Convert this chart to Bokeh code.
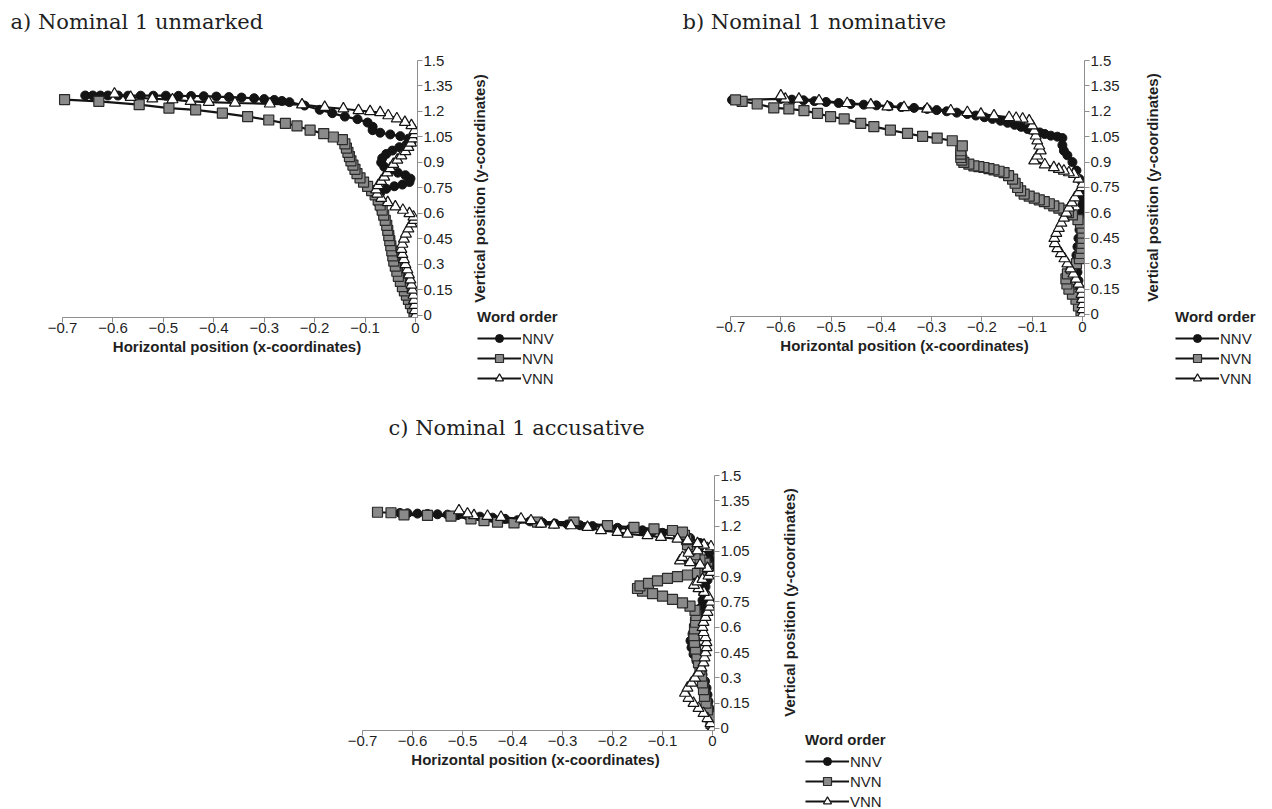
from bokeh.plotting import figure
from bokeh.models import Range1d, FixedTicker, Legend, LegendItem, Spacer, Title
from bokeh.layouts import column, row
from bokeh.embed import file_html
from bokeh.resources import INLINE

# ---------------- data ----------------
panel_titles = ["a) Nominal 1 unmarked", "b) Nominal 1 nominative", "c) Nominal 1 accusative"]
series_names = ["NNV", "NVN", "VNN"]
legend_title = "Word order"
x_axis_title = "Horizontal position (x-coordinates)"
y_axis_title = "Vertical position (y-coordinates)"

x_tick_values = [-0.7, -0.6, -0.5, -0.4, -0.3, -0.2, -0.1, 0]
x_tick_labels = ["\u22120.7", "\u22120.6", "\u22120.5", "\u22120.4", "\u22120.3", "\u22120.2", "\u22120.1", "0"]
y_tick_values = [0, 0.15, 0.3, 0.45, 0.6, 0.75, 0.9, 1.05, 1.2, 1.35, 1.5]
y_tick_labels = ["0", "0.15", "0.3", "0.45", "0.6", "0.75", "0.9", "1.05", "1.2", "1.35", "1.5"]

# Panel a) Nominal 1 unmarked
a_nnv_x = [0, -0.003, -0.006, -0.01, -0.014, -0.018, -0.022, -0.026, -0.03, -0.034, -0.037, -0.04, -0.043, -0.046, -0.048, -0.05, -0.052, -0.055, -0.058, -0.062, -0.066, -0.07, -0.074, -0.075, -0.07, -0.058, -0.042, -0.026, -0.012, -0.01, -0.02, -0.035, -0.05, -0.062, -0.068, -0.066, -0.058, -0.046, -0.032, -0.018, -0.008, -0.014, -0.03, -0.05, -0.07, -0.085, -0.085, -0.095, -0.115, -0.14, -0.165, -0.19, -0.22, -0.25, -0.265, -0.28, -0.3, -0.32, -0.345, -0.37, -0.395, -0.42, -0.445, -0.47, -0.495, -0.52, -0.545, -0.57, -0.59, -0.61, -0.625, -0.64, -0.655]
a_nnv_y = [0, 0.03, 0.06, 0.09, 0.12, 0.15, 0.18, 0.21, 0.24, 0.27, 0.3, 0.33, 0.36, 0.39, 0.42, 0.45, 0.48, 0.51, 0.54, 0.57, 0.6, 0.63, 0.66, 0.69, 0.72, 0.745, 0.76, 0.77, 0.785, 0.805, 0.825, 0.84, 0.855, 0.875, 0.9, 0.925, 0.95, 0.97, 0.99, 1.005, 1.02, 1.04, 1.055, 1.065, 1.075, 1.09, 1.11, 1.135, 1.155, 1.17, 1.19, 1.21, 1.235, 1.255, 1.262, 1.268, 1.273, 1.278, 1.282, 1.285, 1.288, 1.29, 1.291, 1.292, 1.293, 1.293, 1.293, 1.293, 1.294, 1.294, 1.294, 1.294, 1.294]
a_nvn_x = [0, -0.003, -0.006, -0.01, -0.014, -0.018, -0.022, -0.026, -0.03, -0.034, -0.037, -0.04, -0.043, -0.045, -0.047, -0.049, -0.051, -0.053, -0.055, -0.057, -0.06, -0.063, -0.066, -0.07, -0.074, -0.08, -0.087, -0.095, -0.103, -0.11, -0.116, -0.12, -0.124, -0.128, -0.131, -0.134, -0.137, -0.14, -0.145, -0.163, -0.182, -0.209, -0.235, -0.258, -0.291, -0.333, -0.383, -0.436, -0.489, -0.548, -0.628, -0.696]
a_nvn_y = [0, 0.02, 0.045, 0.07, 0.095, 0.12, 0.145, 0.17, 0.2, 0.23, 0.26, 0.29, 0.32, 0.35, 0.38, 0.41, 0.44, 0.47, 0.5, 0.53, 0.56, 0.59, 0.62, 0.65, 0.68, 0.71, 0.735, 0.76, 0.785, 0.81, 0.835, 0.86, 0.885, 0.91, 0.935, 0.96, 0.985, 1.01, 1.035, 1.05, 1.07, 1.09, 1.115, 1.13, 1.15, 1.17, 1.19, 1.21, 1.22, 1.24, 1.26, 1.27]
a_vnn_x = [0, -0.001, -0.002, -0.003, -0.004, -0.006, -0.008, -0.01, -0.013, -0.016, -0.02, -0.023, -0.026, -0.028, -0.026, -0.023, -0.019, -0.014, -0.008, -0.003, -0.004, -0.012, -0.025, -0.04, -0.055, -0.068, -0.076, -0.078, -0.074, -0.068, -0.062, -0.056, -0.05, -0.044, -0.036, -0.028, -0.02, -0.014, -0.009, -0.005, -0.002, -0.002, -0.008, -0.021, -0.037, -0.054, -0.07, -0.09, -0.113, -0.143, -0.18, -0.225, -0.289, -0.358, -0.41, -0.446, -0.482, -0.522, -0.565, -0.597]
a_vnn_y = [0, 0.03, 0.06, 0.09, 0.12, 0.15, 0.18, 0.21, 0.24, 0.27, 0.3, 0.33, 0.36, 0.39, 0.42, 0.45, 0.48, 0.51, 0.54, 0.56, 0.58, 0.6, 0.62, 0.64, 0.665, 0.69, 0.715, 0.74, 0.765, 0.79, 0.815, 0.84, 0.865, 0.89, 0.915, 0.94, 0.965, 0.99, 1.015, 1.04, 1.065, 1.088, 1.118, 1.137, 1.158, 1.176, 1.194, 1.2, 1.206, 1.216, 1.225, 1.24, 1.245, 1.25, 1.255, 1.26, 1.27, 1.275, 1.284, 1.304]

# Panel b) Nominal 1 nominative
b_nnv_x = [0, -0.002, -0.004, -0.006, -0.008, -0.01, -0.012, -0.012, -0.01, -0.008, -0.006, -0.004, -0.002, 0, 0, 0, -0.006, -0.012, -0.02, -0.03, -0.037, -0.04, -0.04, -0.05, -0.063, -0.075, -0.085, -0.097, -0.109, -0.122, -0.135, -0.149, -0.163, -0.179, -0.195, -0.212, -0.229, -0.25, -0.27, -0.29, -0.309, -0.335, -0.36, -0.385, -0.41, -0.435, -0.461, -0.485, -0.51, -0.533, -0.555, -0.578, -0.6, -0.697]
b_nnv_y = [0, 0.05, 0.1, 0.15, 0.2, 0.25, 0.3, 0.35, 0.4, 0.45, 0.5, 0.55, 0.6, 0.65, 0.7, 0.75, 0.8, 0.85, 0.9, 0.94, 0.967, 1.0, 1.042, 1.05, 1.056, 1.066, 1.075, 1.085, 1.095, 1.108, 1.12, 1.132, 1.144, 1.155, 1.165, 1.175, 1.184, 1.192, 1.2, 1.207, 1.214, 1.22, 1.225, 1.23, 1.235, 1.239, 1.243, 1.249, 1.255, 1.26, 1.265, 1.269, 1.273, 1.267]
b_nvn_x = [0, -0.003, -0.008, -0.013, -0.02, -0.027, -0.031, -0.033, -0.03, -0.022, -0.012, -0.006, -0.004, -0.002, -0.001, 0, 0, -0.001, -0.004, -0.009, -0.02, -0.028, -0.037, -0.047, -0.057, -0.066, -0.076, -0.086, -0.096, -0.106, -0.116, -0.123, -0.129, -0.134, -0.139, -0.147, -0.156, -0.166, -0.176, -0.186, -0.196, -0.206, -0.216, -0.226, -0.236, -0.24, -0.242, -0.242, -0.242, -0.239, -0.259, -0.289, -0.318, -0.348, -0.382, -0.415, -0.441, -0.474, -0.501, -0.527, -0.554, -0.584, -0.614, -0.647, -0.677, -0.69]
b_nvn_y = [0, 0.02, 0.05, 0.09, 0.12, 0.15, 0.18, 0.21, 0.24, 0.27, 0.3, 0.33, 0.36, 0.39, 0.42, 0.45, 0.48, 0.51, 0.54, 0.56, 0.588, 0.602, 0.616, 0.628, 0.641, 0.654, 0.667, 0.677, 0.687, 0.699, 0.711, 0.73, 0.75, 0.775, 0.799, 0.82, 0.838, 0.846, 0.854, 0.861, 0.868, 0.873, 0.878, 0.888, 0.898, 0.912, 0.927, 0.947, 0.967, 0.996, 1.026, 1.042, 1.052, 1.069, 1.089, 1.109, 1.129, 1.155, 1.168, 1.188, 1.204, 1.214, 1.22, 1.243, 1.259, 1.267]
b_vnn_x = [0, 0, 0, -0.001, -0.002, -0.003, -0.008, -0.013, -0.018, -0.024, -0.03, -0.036, -0.043, -0.05, -0.055, -0.056, -0.052, -0.047, -0.042, -0.037, -0.032, -0.027, -0.021, -0.015, -0.008, -0.002, 0, -0.008, -0.017, -0.027, -0.037, -0.047, -0.057, -0.075, -0.096, -0.09, -0.083, -0.086, -0.09, -0.093, -0.096, -0.1, -0.106, -0.119, -0.132, -0.146, -0.176, -0.202, -0.229, -0.262, -0.309, -0.355, -0.388, -0.421, -0.468, -0.524, -0.564, -0.591, -0.6]
b_vnn_y = [0, 0.03, 0.06, 0.09, 0.12, 0.15, 0.18, 0.21, 0.24, 0.27, 0.3, 0.33, 0.36, 0.39, 0.42, 0.45, 0.48, 0.51, 0.54, 0.57, 0.6, 0.63, 0.66, 0.69, 0.72, 0.75, 0.77, 0.8, 0.829, 0.838, 0.848, 0.858, 0.868, 0.885, 0.908, 0.937, 0.967, 0.996, 1.026, 1.055, 1.085, 1.115, 1.144, 1.155, 1.16, 1.164, 1.174, 1.184, 1.194, 1.204, 1.214, 1.223, 1.227, 1.239, 1.247, 1.263, 1.273, 1.273, 1.292]

# Panel c) Nominal 1 accusative
c_nnv_x = [0, -0.002, -0.004, -0.006, -0.008, -0.01, -0.012, -0.015, -0.02, -0.026, -0.032, -0.038, -0.042, -0.044, -0.04, -0.034, -0.028, -0.024, -0.022, -0.02, -0.018, -0.014, -0.01, -0.006, -0.004, -0.004, -0.006, -0.012, -0.025, -0.045, -0.07, -0.1, -0.12, -0.14, -0.165, -0.19, -0.215, -0.24, -0.265, -0.29, -0.315, -0.34, -0.365, -0.39, -0.415, -0.44, -0.465, -0.49, -0.51, -0.53, -0.55, -0.57, -0.59, -0.61, -0.625, -0.64]
c_nnv_y = [0, 0.04, 0.08, 0.12, 0.16, 0.2, 0.24, 0.28, 0.32, 0.36, 0.4, 0.44, 0.48, 0.52, 0.56, 0.6, 0.64, 0.68, 0.72, 0.76, 0.8, 0.84, 0.88, 0.92, 0.96, 1.0, 1.04, 1.07, 1.1, 1.13, 1.15, 1.16, 1.168, 1.175, 1.183, 1.19, 1.195, 1.2, 1.205, 1.21, 1.215, 1.22, 1.228, 1.235, 1.243, 1.25, 1.256, 1.262, 1.265, 1.268, 1.27, 1.272, 1.274, 1.276, 1.278, 1.28]
c_nvn_x = [0, -0.003, -0.006, -0.01, -0.013, -0.016, -0.018, -0.02, -0.022, -0.025, -0.028, -0.031, -0.034, -0.036, -0.037, -0.036, -0.034, -0.033, -0.035, -0.045, -0.06, -0.08, -0.1, -0.12, -0.14, -0.15, -0.145, -0.128, -0.11, -0.09, -0.07, -0.05, -0.03, -0.015, -0.01, -0.015, -0.025, -0.035, -0.045, -0.05, -0.052, -0.056, -0.06, -0.08, -0.117, -0.157, -0.21, -0.277, -0.35, -0.397, -0.43, -0.457, -0.483, -0.523, -0.57, -0.617, -0.643, -0.67]
c_nvn_y = [0, 0.03, 0.07, 0.11, 0.15, 0.19, 0.23, 0.27, 0.31, 0.35, 0.39, 0.43, 0.47, 0.51, 0.55, 0.59, 0.63, 0.67, 0.7, 0.725, 0.745, 0.765, 0.785, 0.8, 0.815, 0.83, 0.845, 0.86, 0.875, 0.89, 0.9, 0.91, 0.92, 0.935, 0.955, 0.98, 1.0, 1.03, 1.06, 1.09, 1.12, 1.145, 1.164, 1.174, 1.184, 1.193, 1.203, 1.223, 1.223, 1.219, 1.223, 1.233, 1.243, 1.259, 1.263, 1.267, 1.279, 1.282]
c_vnn_x = [0, -0.004, -0.01, -0.018, -0.028, -0.038, -0.048, -0.055, -0.05, -0.042, -0.035, -0.028, -0.022, -0.018, -0.016, -0.014, -0.012, -0.012, -0.014, -0.018, -0.02, -0.018, -0.014, -0.01, -0.006, -0.004, -0.008, -0.017, -0.028, -0.037, -0.03, -0.02, -0.008, -0.003, -0.01, -0.025, -0.045, -0.065, -0.06, -0.048, -0.03, -0.01, -0.003, -0.017, -0.03, -0.05, -0.07, -0.103, -0.13, -0.17, -0.19, -0.223, -0.25, -0.283, -0.317, -0.343, -0.363, -0.383, -0.423, -0.45, -0.477, -0.49, -0.507]
c_vnn_y = [0, 0.03, 0.06, 0.09, 0.12, 0.15, 0.18, 0.21, 0.24, 0.27, 0.3, 0.33, 0.36, 0.39, 0.42, 0.45, 0.48, 0.51, 0.54, 0.57, 0.6, 0.63, 0.66, 0.69, 0.72, 0.75, 0.78, 0.808, 0.83, 0.85, 0.87, 0.885, 0.905, 0.927, 0.95, 0.97, 0.985, 0.995, 1.015, 1.04, 1.055, 1.068, 1.078, 1.088, 1.097, 1.114, 1.124, 1.134, 1.144, 1.154, 1.164, 1.174, 1.193, 1.203, 1.207, 1.213, 1.233, 1.243, 1.253, 1.259, 1.263, 1.273, 1.292]

panel_series = [
    [(a_nnv_x, a_nnv_y), (a_nvn_x, a_nvn_y), (a_vnn_x, a_vnn_y)],
    [(b_nnv_x, b_nnv_y), (b_nvn_x, b_nvn_y), (b_vnn_x, b_vnn_y)],
    [(c_nnv_x, c_nnv_y), (c_nvn_x, c_nvn_y), (c_vnn_x, c_vnn_y)],
]
for ser in panel_series:
    for xs, ys in ser:
        assert len(xs) == len(ys), (len(xs), len(ys))

# ---------------- styling ----------------
X_MIN, X_MAX = -0.712, 0.004
Y_MIN, Y_MAX = -0.012, 1.5
AXIS_COLOR = "#8f8f8f"
TEXT_COLOR = "#1f1f1f"
SANS = "Liberation Sans"
AX_R = 45          # room kept for the right tick labels
LAB_SHIFT = 5      # rotated axis title centre sits this far left of (frame left - standoff)

marker_styles = {
    "NNV": dict(marker="circle", size=9, fill_color="#141414", line_color="#141414", line_width=1),
    "NVN": dict(marker="square", size=10, fill_color="#8a8a8a", line_color="#2a2a2a", line_width=1.2),
    "VNN": dict(marker="triangle", size=11, fill_color="#ffffff", line_color="#141414", line_width=1.2),
}
LINE_COLOR = "#141414"
LINE_WIDTH = 2.2

# screen-pixel geometry of each panel (page origin at 0, 0)
geoms = [
    dict(fig_left=0, fig_top=0, fig_w=680, fig_h=412, x0px=62, x1px=415, y0px=315, y1px=60,
         title_left=10, title_gap=24, ylab_cx=482, ylab_cy=188, leg_left=477, leg_top=306),
    dict(fig_left=680, fig_top=0, fig_w=590, fig_h=412, x0px=730, x1px=1082, y0px=314, y1px=60,
         title_left=682, title_gap=24, ylab_cx=1155, ylab_cy=187, leg_left=1175, leg_top=306),
    dict(fig_left=300, fig_top=412, fig_w=620, fig_h=396, x0px=362, x1px=712, y0px=728, y1px=475,
         title_left=388, title_gap=33, ylab_cx=792, ylab_cy=602, leg_left=805, leg_top=729),
]


def style_axis(ax):
    ax.axis_line_color = AXIS_COLOR
    ax.axis_line_width = 1
    ax.major_tick_line_color = AXIS_COLOR
    ax.minor_tick_line_color = None
    ax.major_tick_in = 0
    ax.major_tick_out = 5
    ax.major_label_text_font = SANS
    ax.major_label_text_font_size = "15px"
    ax.major_label_text_color = TEXT_COLOR
    ax.major_label_standoff = 1
    ax.axis_label_text_font = SANS
    ax.axis_label_text_font_style = "bold"
    ax.axis_label_text_font_size = "15px"
    ax.axis_label_text_color = TEXT_COLOR


def blank_figure(**kw):
    f = figure(output_backend="svg", toolbar_location=None, title=None, **kw)
    f.outline_line_color = None
    for gr in f.grid:
        gr.visible = False
    f.background_fill_color = "white"
    f.border_fill_color = "white"
    return f


def make_panel(title, series, g):
    ppx = (g["x1px"] - g["x0px"]) / 0.7
    ppy = (g["y0px"] - g["y1px"]) / 1.5
    frame_left = g["x0px"] + (X_MIN + 0.7) * ppx
    frame_w = round((X_MAX - X_MIN) * ppx)
    frame_top = g["y1px"] - (Y_MAX - 1.5) * ppy
    frame_h = round((Y_MAX - Y_MIN) * ppy)
    bl = round(frame_left - g["fig_left"])
    bt = round(frame_top - g["fig_top"])
    bb = g["fig_h"] - bt - frame_h
    frame_left_px = g["fig_left"] + bl
    main_w = bl + frame_w + AX_R
    strip_left = g["fig_left"] + main_w
    strip_w = g["fig_w"] - main_w

    # ---- main plot: traces, axes and panel title ----
    p = blank_figure(frame_width=frame_w, frame_height=frame_h,
                     min_border_left=bl, min_border_right=AX_R, min_border_top=bt, min_border_bottom=bb,
                     x_range=Range1d(X_MIN, X_MAX), y_range=Range1d(Y_MIN, Y_MAX),
                     y_axis_location="right")
    gap = Title(text=" ", text_font_size="1px", standoff=g["title_gap"])
    ttl = Title(text=title, align="left", offset=g["title_left"] - frame_left_px, standoff=0,
                text_font="DejaVu Serif", text_font_size="21px", text_font_style="normal",
                text_color=TEXT_COLOR)
    p.add_layout(gap, "above")
    p.add_layout(ttl, "above")

    xa = p.xaxis[0]
    ya = p.yaxis[0]
    style_axis(xa)
    style_axis(ya)
    xa.ticker = FixedTicker(ticks=x_tick_values)
    xa.major_label_overrides = dict(zip(x_tick_values, x_tick_labels))
    xa.major_label_standoff = 0
    xa.bounds = (-0.7, X_MAX)
    xa.axis_label = x_axis_title
    xa.axis_label_standoff = 2
    ya.ticker = FixedTicker(ticks=y_tick_values)
    ya.major_label_overrides = dict(zip(y_tick_values, y_tick_labels))
    ya.bounds = (Y_MIN, 1.5)

    for name, (xs, ys) in zip(series_names, series):
        p.line(xs, ys, line_color=LINE_COLOR, line_width=LINE_WIDTH)
        p.scatter(xs, ys, **marker_styles[name])

    # ---- side strip: both parts share the same horizontal border recipe ----
    s_left = g["leg_left"] - 7 - strip_left        # strip frame starts just left of the legend
    s_right = 2
    s_frame_left_px = strip_left + s_left

    # upper part: y-axis title reading upward, centred on ylab_cy
    lab_bottom = g["leg_top"]
    lab_top_frame = 2 * g["ylab_cy"] - lab_bottom
    lab_h = lab_bottom - g["fig_top"]
    q = blank_figure(width=strip_w, height=lab_h,
                     min_border_left=s_left, min_border_right=s_right,
                     min_border_top=lab_top_frame - g["fig_top"], min_border_bottom=0,
                     x_range=Range1d(0, 1), y_range=Range1d(0, 1),
                     x_axis_location=None, y_axis_location="left")
    qa = q.yaxis[0]
    qa.ticker = FixedTicker(ticks=[])
    qa.axis_line_color = None
    qa.major_tick_line_color = None
    qa.minor_tick_line_color = None
    qa.major_tick_in = 0
    qa.major_tick_out = 0
    qa.major_label_standoff = 0
    qa.axis_label = y_axis_title
    qa.axis_label_text_font = SANS
    qa.axis_label_text_font_style = "bold"
    qa.axis_label_text_font_size = "15px"
    qa.axis_label_text_color = TEXT_COLOR
    qa.axis_label_standoff = round(s_frame_left_px - LAB_SHIFT - g["ylab_cx"])

    # lower part: legend inside the frame
    leg_fig_h = g["fig_h"] - lab_h
    r = blank_figure(width=strip_w, height=leg_fig_h,
                     min_border_left=s_left, min_border_right=s_right,
                     min_border_top=0, min_border_bottom=0,
                     x_range=Range1d(10, 11), y_range=Range1d(10, 11),
                     x_axis_location=None, y_axis_location=None)
    items = []
    for name, (xs, ys) in zip(series_names, series):
        lr = r.line(xs, ys, line_color=LINE_COLOR, line_width=LINE_WIDTH)
        sr = r.scatter(xs, ys, **marker_styles[name])
        items.append(LegendItem(label=name, renderers=[lr, sr]))
    leg_h = 19 + 3 + 3 * 20
    r_bottom = g["fig_top"] + g["fig_h"]
    legend = Legend(items=items,
                    location=(g["leg_left"] - s_frame_left_px, r_bottom - (g["leg_top"] + leg_h)),
                    title=legend_title, title_text_font=SANS, title_text_font_style="bold",
                    title_text_font_size="15px", title_text_color=TEXT_COLOR, title_standoff=3,
                    label_text_font=SANS, label_text_font_size="15px", label_text_color=TEXT_COLOR,
                    glyph_width=44, glyph_height=20, label_height=20, label_standoff=1,
                    spacing=0, padding=0, margin=0, border_line_color=None,
                    background_fill_alpha=0)
    r.add_layout(legend, "center")
    return row(p, column(q, r))


panels = [make_panel(t, s, g) for t, s, g in zip(panel_titles, panel_series, geoms)]
pa, pb, pc = panels
layout = column(row(pa, pb),
                row(Spacer(width=geoms[2]["fig_left"], height=geoms[2]["fig_h"]), pc))

open("out.html", "w").write(file_html(layout, INLINE))
